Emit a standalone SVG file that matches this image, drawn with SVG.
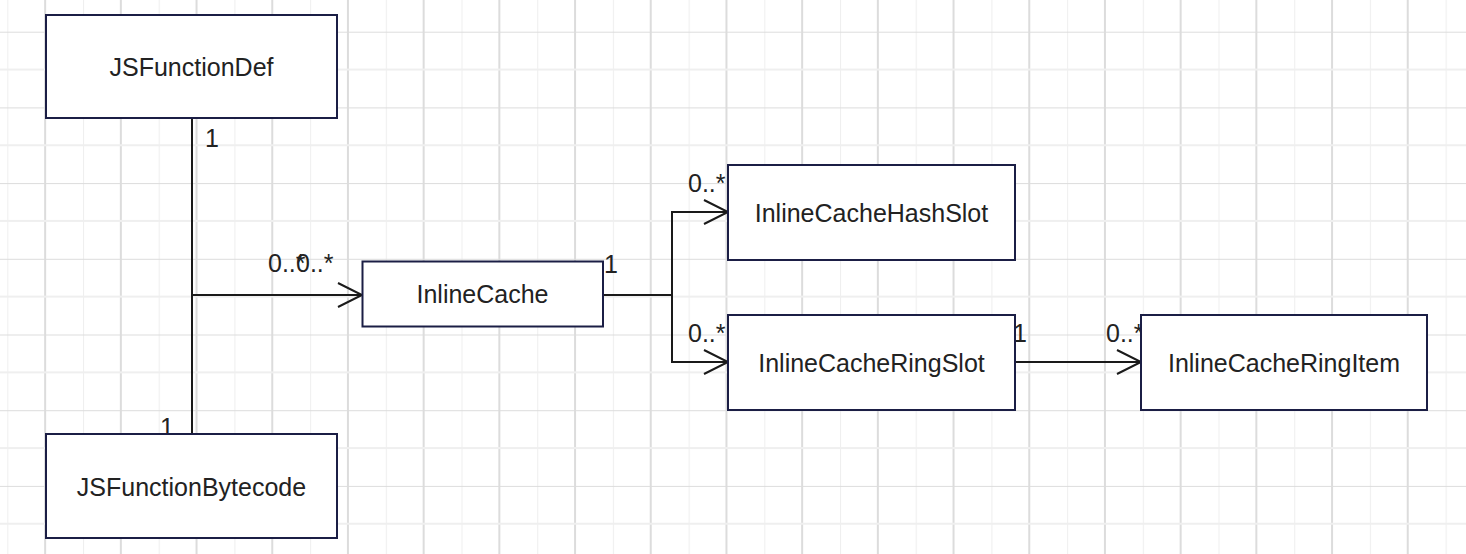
<svg xmlns="http://www.w3.org/2000/svg" width="1466" height="554" viewBox="0 0 1466 554">
  <defs>
    <pattern id="grid" patternUnits="userSpaceOnUse" x="7.3" y="31.7" width="75.7" height="75.7">
      <rect width="75.7" height="75.7" fill="#ffffff"/>
      <line x1="0" y1="0" x2="0" y2="75.7" stroke="#efefef" stroke-width="2"/>
      <line x1="37.85" y1="0" x2="37.85" y2="75.7" stroke="#dcdcdc" stroke-width="2"/>
      <line x1="0" y1="37.85" x2="75.7" y2="37.85" stroke="#efefef" stroke-width="2"/>
      <line x1="0" y1="0" x2="75.7" y2="0" stroke="#dcdcdc" stroke-width="2"/>
    </pattern>
    <marker id="open" markerUnits="userSpaceOnUse" markerWidth="26" markerHeight="26" refX="24" refY="12" orient="auto" overflow="visible">
      <path d="M0,0 L24,12 L0,24" fill="none" stroke="#1a1a1a" stroke-width="2"/>
    </marker>
  </defs>
  <style>
    .node rect { fill: #ffffff; stroke: #1b1e45; stroke-width: 2; }
    .node text { font-family: "Liberation Sans", Arial, sans-serif; font-size: 25px; fill: #222222; text-anchor: middle; }
    .conn path { fill: none; stroke: #1a1a1a; stroke-width: 2; }
    .lbl { font-family: "Liberation Sans", Arial, sans-serif; font-size: 25px; fill: #222222; }
  </style>
  <rect x="0" y="0" width="1466" height="554" fill="url(#grid)"/>

  <g id="connectors" class="conn">
    <path d="M192,118 L192,434"/>
    <path d="M192,295 L362,295" marker-end="url(#open)"/>
    <path d="M603,295 L672,295 L672,212 L728,212" marker-end="url(#open)"/>
    <path d="M672,295 L672,362 L728,362" marker-end="url(#open)"/>
    <path d="M1015,362 L1141,362" marker-end="url(#open)"/>
    <text class="lbl" x="205" y="147">1</text>
    <text class="lbl" x="160" y="436">1</text>
    <text class="lbl" x="268" y="272">0..*</text>
    <text class="lbl" x="296" y="272">0..*</text>
    <text class="lbl" x="604" y="273">1</text>
    <text class="lbl" x="688" y="192">0..*</text>
    <text class="lbl" x="688" y="342">0..*</text>
    <text class="lbl" x="1013" y="342">1</text>
    <text class="lbl" x="1106" y="342">0..*</text>
  </g>

  <g id="JSFunctionDef" class="node">
    <rect x="46" y="15" width="291" height="103"/>
    <text x="191.5" y="75.5">JSFunctionDef</text>
  </g>
  <g id="JSFunctionBytecode" class="node">
    <rect x="46" y="434" width="291" height="104"/>
    <text x="191.5" y="496">JSFunctionBytecode</text>
  </g>
  <g id="InlineCache" class="node">
    <rect x="362.5" y="261.5" width="240.5" height="65"/>
    <text x="482.5" y="302.5">InlineCache</text>
  </g>
  <g id="InlineCacheHashSlot" class="node">
    <rect x="728" y="165" width="287" height="95"/>
    <text x="871.5" y="221.5">InlineCacheHashSlot</text>
  </g>
  <g id="InlineCacheRingSlot" class="node">
    <rect x="728" y="315" width="287" height="95"/>
    <text x="871.5" y="371.5">InlineCacheRingSlot</text>
  </g>
  <g id="InlineCacheRingItem" class="node">
    <rect x="1141" y="315" width="286" height="95"/>
    <text x="1284" y="371.5">InlineCacheRingItem</text>
  </g>
</svg>
